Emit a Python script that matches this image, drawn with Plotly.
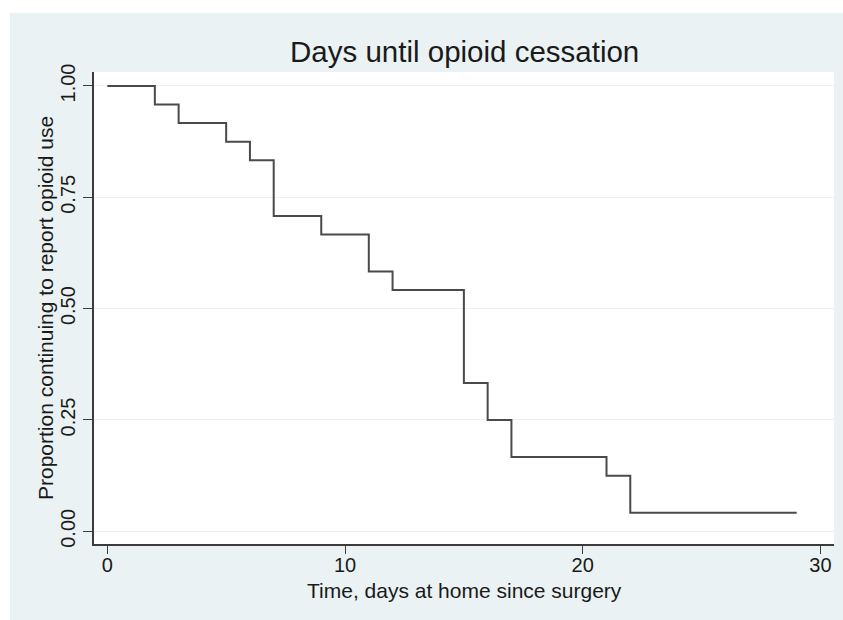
import plotly.graph_objects as go

# Kaplan-Meier estimate: event days and the survival proportion after each step
days = [0, 2, 3, 5, 6, 7, 9, 11, 12, 15, 16, 17, 21, 22, 29]
proportion = [1.0, 0.9583, 0.9167, 0.875, 0.8333, 0.7083, 0.6667, 0.5833,
              0.5417, 0.3333, 0.25, 0.1667, 0.125, 0.0417, 0.0417]

y_ticks = [0, 0.25, 0.5, 0.75, 1.0]
y_tick_text = ["0.00", "0.25", "0.50", "0.75", "1.00"]
x_ticks = [0, 10, 20, 30]
x_range = [-0.56, 30.57]

BG = "#EAF2F3"
INK = "#3c3c3c"
TXT = "#1a1a1a"
FONT = "Liberation Sans, Arial, sans-serif"

fig = go.Figure()
fig.add_trace(go.Scatter(
    x=days, y=proportion, mode="lines", line_shape="hv",
    line=dict(color="#4a4a4a", width=2), showlegend=False, hoverinfo="skip",
))
# empty trace so the label-only overlay axis is drawn
fig.add_trace(go.Scatter(x=[None], y=[None], xaxis="x2", mode="lines",
                         showlegend=False, hoverinfo="skip"))

W, H = 843, 620
L, R, T, B = 94, 9, 72, 76
pw, ph = W - L - R, H - T - B

def px_x(p):
    return (p - L) / pw

def px_y(p):
    return (H - B - p) / ph

fig.update_layout(
    width=W, height=H,
    margin=dict(l=L, r=R, t=T, b=B),
    paper_bgcolor=BG, plot_bgcolor="white",
    font=dict(family=FONT, color=TXT, size=20),
    shapes=[
        # white strips outside the shaded graph region
        dict(type="rect", xref="paper", yref="paper", layer="below",
             x0=px_x(-5), x1=px_x(W + 5), y0=px_y(13), y1=px_y(-5),
             fillcolor="white", line_width=0),
        dict(type="rect", xref="paper", yref="paper", layer="below",
             x0=px_x(-5), x1=px_x(10), y0=px_y(H + 5), y1=px_y(-5),
             fillcolor="white", line_width=0),
    ],
    annotations=[
        dict(text="Days until opioid cessation", xref="paper", yref="paper",
             x=0.5, y=px_y(52), xanchor="center", yanchor="middle",
             showarrow=False, font=dict(size=29.5, family=FONT, color=TXT)),
        dict(text="Time, days at home since surgery", xref="paper", yref="paper",
             x=0.5, y=px_y(590), xanchor="center", yanchor="middle",
             showarrow=False, font=dict(size=21, family=FONT, color=TXT)),
        dict(text="Proportion continuing to report opioid use", xref="paper", yref="paper",
             x=px_x(45), y=0.5, xanchor="center", yanchor="middle", textangle=-90,
             showarrow=False, font=dict(size=21, family=FONT, color=TXT)),
    ],
    # tick marks come from xaxis, tick labels from the overlaid xaxis2
    xaxis=dict(
        range=x_range, tickvals=x_ticks, showticklabels=False,
        showgrid=False, zeroline=False,
        showline=True, linecolor=INK, linewidth=1.5,
        ticks="outside", ticklen=8, tickcolor=INK, tickwidth=1,
    ),
    xaxis2=dict(
        range=x_range, tickvals=x_ticks, overlaying="x", side="bottom",
        anchor="y", showgrid=False, zeroline=False, showline=False,
        ticks="", ticklabelstandoff=7,
        tickfont=dict(size=20, family=FONT, color=TXT),
    ),
    yaxis=dict(
        range=[-0.0285, 1.0314], tickvals=y_ticks, ticktext=y_tick_text,
        showgrid=True, gridcolor=BG, gridwidth=1.2, zeroline=False,
        showline=True, linecolor=INK, linewidth=1.5,
        ticks="outside", ticklen=9, tickcolor=INK, tickwidth=1, tickangle=-90,
        tickfont=dict(size=20, family=FONT, color=TXT),
    ),
)

fig.write_html("out.html")
